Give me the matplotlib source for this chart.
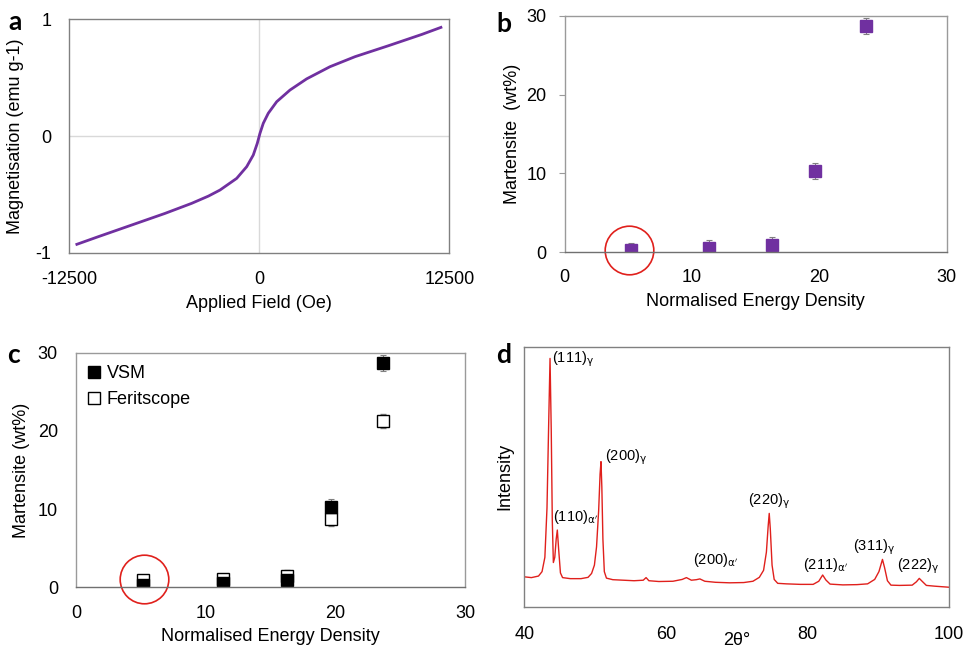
import matplotlib
matplotlib.use("Agg")
import matplotlib.pyplot as plt
import numpy as np

plt.rcParams['font.family'] = ['Liberation Sans', 'DejaVu Sans']
plt.rcParams['axes.unicode_minus'] = False

# ---- data -------------------------------------------------------------
# (a) magnetisation curve
field = [-12000, -10600, -8400, -6200, -4450, -3350, -2585, -1487, -829,
         -395, -132, 46, 263, 592, 1145, 2020, 3118, 4651, 6300, 8500,
         10700, 11950]
magn = [-0.928, -0.863, -0.763, -0.663, -0.577, -0.515, -0.463, -0.363,
        -0.263, -0.163, -0.063, 0.023, 0.109, 0.195, 0.294, 0.394, 0.49,
        0.594, 0.68, 0.774, 0.871, 0.931]

# (b, c) martensite content vs normalised energy density
energy = [5.2, 11.35, 16.25, 19.65, 23.7]
vsm = [0.3, 0.55, 0.9, 10.3, 28.7]
vsm_err = [0.9, 1.0, 1.1, 1.05, 1.05]
ferit = [0.9, 1.0, 1.5, 8.7, 21.3]
ferit_err = [0.6, 0.7, 0.7, 0.9, 0.9]

# (d) XRD pattern
two_theta = [40.0, 41.0, 42.0, 42.5, 42.9, 43.2, 43.45, 43.63, 43.8, 43.95,
             44.1, 44.3, 44.5, 44.66, 44.85, 45.1, 45.4, 46.5, 48.0, 49.0,
             49.5, 49.9, 50.2, 50.5, 50.7, 50.83, 50.95, 51.1, 51.3, 51.6,
             52.5, 54.0, 55.5, 56.8, 57.2, 57.6, 59.0, 61.0, 62.3, 62.9,
             63.6, 64.3, 64.8, 65.5, 67.0, 69.0, 71.0, 72.3, 73.2, 73.8,
             74.2, 74.45, 74.6, 74.75, 75.0, 75.3, 75.8, 77.0, 79.0, 80.8,
             81.6, 82.15, 82.6, 83.2, 85.0, 87.0, 88.5, 89.5, 90.1, 90.6,
             90.9, 91.3, 91.8, 93.0, 94.8, 95.4, 95.8, 96.2, 96.8, 98.0, 100.0]
intensity = [11.5, 11.2, 11.8, 13.5, 19, 38, 72, 95.5, 68, 33,
             17, 19, 26, 29.5, 22, 13, 11.2, 10.8, 10.8, 11.3,
             12.8, 16, 23, 37, 51, 55.8, 46, 26, 13.5, 11,
             10.4, 10.2, 10.0, 10.2, 11.2, 10.0, 9.7, 9.8, 10.5, 11.2,
             10.2, 10.4, 10.7, 9.8, 9.4, 9.2, 9.3, 9.8, 11.3, 14,
             21, 31, 35.9, 30, 16, 10.5, 9.0, 8.8, 8.6, 8.6,
             9.8, 12.2, 10.3, 8.7, 8.4, 8.5, 8.8, 10.5, 13.5, 18.2,
             15, 10, 8.3, 8.2, 8.3, 9.6, 10.9, 9.8, 8.2, 7.9, 7.5]
peak_labels = ['(111)$_{\\mathrm{γ}}$', "(110)$_{\\mathrm{α'}}$",
               '(200)$_{\\mathrm{γ}}$', "(200)$_{\\mathrm{α'}}$",
               '(220)$_{\\mathrm{γ}}$', "(211)$_{\\mathrm{α'}}$",
               '(311)$_{\\mathrm{γ}}$', '(222)$_{\\mathrm{γ}}$']
label_x = [43.87, 44.0, 51.4, 63.87, 71.64, 79.36, 86.47, 92.71]
label_y = [95.3, 34.5, 57.6, 18.0, 40.5, 16.0, 22.8, 15.7]

PURPLE = '#7030a0'
RED = '#e0201c'
FRAME = '#9a9a9a'
FS = 13

fig = plt.figure(figsize=(9.66, 6.51), dpi=100)

def frame(ax, col=FRAME):
    for s in ax.spines.values():
        s.set_color(col)
        s.set_linewidth(1.0)

# ---- (a) --------------------------------------------------------------
ax1 = fig.add_axes([0.0717, 0.6118, 0.3934, 0.3585])
ax1.axhline(0, color='#d9d9d9', lw=1, zorder=0)
ax1.axvline(0, color='#d9d9d9', lw=1, zorder=0)
ax1.plot(field, magn, color=PURPLE, lw=2, solid_joinstyle='round')
ax1.set_xlim(-12500, 12500)
ax1.set_ylim(-1, 1)
ax1.set_xticks([-12500, 0, 12500])
ax1.set_yticks([-1, 0, 1])
ax1.tick_params(length=0, pad=13, labelsize=FS)
ax1.set_xlabel('Applied Field (Oe)', fontsize=FS, labelpad=5)
ax1.set_ylabel('Magnetisation (emu g-1)', fontsize=FS, labelpad=8)
frame(ax1, '#808080')

# ---- (b) --------------------------------------------------------------
ax2 = fig.add_axes([0.5846, 0.6124, 0.3954, 0.3634])
ax2.errorbar(energy, vsm, yerr=vsm_err, fmt='s', color=PURPLE, ms=9,
             ecolor='#808080', elinewidth=0.8, capsize=2, capthick=0.8)
ax2.plot([5.05], [0.3], 'o', ms=35, mfc='none', mec=RED, mew=1.2, clip_on=False)
ax2.set_xlim(0, 30)
ax2.set_ylim(0, 30)
ax2.set_xticks([0, 10, 20, 30])
ax2.set_yticks([0, 10, 20, 30])
ax2.tick_params(axis='y', length=4, width=0.8, color=FRAME, pad=9, labelsize=FS)
ax2.tick_params(axis='x', length=0, pad=12, labelsize=FS)
ax2.set_xlabel('Normalised Energy Density', fontsize=FS, labelpad=5)
ax2.set_ylabel('Martensite  (wt%)', fontsize=FS, labelpad=4)
frame(ax2)
ax2.spines['bottom'].set_color('#707070')

# ---- (c) --------------------------------------------------------------
ax3 = fig.add_axes([0.0787, 0.0979, 0.4027, 0.3604])
ax3.errorbar(energy, ferit, yerr=ferit_err, fmt='s', mfc='white', mec='black',
             mew=1, ms=9, ecolor='#808080', elinewidth=0.8, capsize=2,
             capthick=0.8, label='Feritscope')
ax3.errorbar(energy, vsm, yerr=vsm_err, fmt='s', color='black', ms=9,
             ecolor='#808080', elinewidth=0.8, capsize=2, capthick=0.8,
             label='VSM')
ax3.plot([5.24], [1.1], 'o', ms=35, mfc='none', mec=RED, mew=1.2, clip_on=False)
ax3.set_xlim(0, 30)
ax3.set_ylim(0, 30)
ax3.set_xticks([0, 10, 20, 30])
ax3.set_yticks([0, 10, 20, 30])
ax3.tick_params(length=0, pad=13, labelsize=FS)
ax3.set_xlabel('Normalised Energy Density', fontsize=FS, labelpad=4)
ax3.set_ylabel('Martensite (wt%)', fontsize=FS, labelpad=6)
frame(ax3)
ax3.spines['bottom'].set_color('#707070')
h, l = ax3.get_legend_handles_labels()
h = [hh[0] for hh in h]
ax3.legend(h[::-1], l[::-1], loc='upper left', frameon=False, fontsize=FS,
           handlelength=0.6, handletextpad=0.4, labelspacing=0.5,
           borderaxespad=0.3, bbox_to_anchor=(0.0, 1.0))

# ---- (d) --------------------------------------------------------------
ax4 = fig.add_axes([0.5428, 0.0680, 0.4396, 0.3994])
ax4.plot(two_theta, intensity, color=RED, lw=1)
for lab, x, y in zip(peak_labels, label_x, label_y):
    ax4.text(x, y, lab, fontsize=10.5, ha='left', va='center')
ax4.set_xlim(40, 100)
ax4.set_ylim(0, 100)
ax4.set_xticks([40, 60, 80, 100])
ax4.set_yticks([])
ax4.tick_params(axis='x', length=0, pad=14, labelsize=FS)
ax4.set_ylabel('Intensity', fontsize=FS, labelpad=8)
ax4.text(0.5, -0.148, '2θ°', transform=ax4.transAxes, ha='center',
         va='baseline', fontsize=FS)
frame(ax4, '#808080')

# ---- panel letters ------------------------------------------------------
for letter, px, py in [('a', 8, 30), ('b', 496, 32), ('c', 7, 363), ('d', 496, 363)]:
    fig.text(px / 966, 1 - py / 651, letter, fontsize=19, fontweight='bold',
             family='Lato', ha='left', va='baseline')

fig.savefig('out.png', dpi=100)
